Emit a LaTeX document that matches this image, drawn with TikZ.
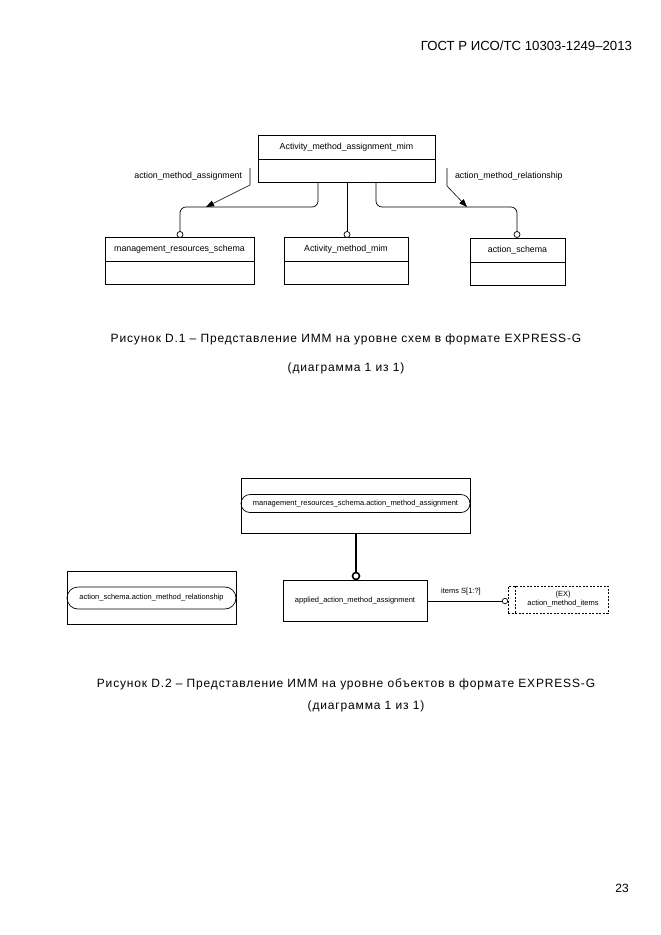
\documentclass[tikz,border=0pt]{standalone}
\usepackage{fontspec}
\setmainfont{Liberation Sans}
\usetikzlibrary{arrows.meta}
\begin{document}
\begin{tikzpicture}[x=1pt,y=-1pt,
  every node/.style={inner sep=0pt, outer sep=0pt},
  ebox/.style={draw, line width=0.7pt, anchor=north west},
  lbl/.style={font=\fontsize{8.8}{10}\selectfont},
  slbl/.style={font=\fontsize{7.5}{9}\selectfont},
  figcap/.style={font=\fontsize{12}{14}\selectfont\addfontfeatures{LetterSpace=7}},
  circ/.style={draw, circle, line width=0.7pt, minimum size=6pt, fill=white},
  conn/.style={line width=0.7pt, rounded corners=6pt},
  arr/.style={line width=0.6pt, -{Triangle[length=8pt,width=6pt]}},
  stad/.style={draw, line width=0.7pt, rounded corners=9pt},
  dbox/.style={draw, dashed, dash pattern=on 2pt off 1.5pt, line width=0.6pt}
]
\useasboundingbox (0,0) rectangle (661,935);
% header
\node[anchor=east, font=\fontsize{13.2}{15}\selectfont] (hdr) at (632,46) {ГОСТ Р ИСО/ТС 10303-1249–2013};
% ===== Diagram D.1 =====
\node[ebox, minimum width=177pt, minimum height=47pt] (A) at (258,135) {};
\draw[line width=0.7pt] ([yshift=-24pt]A.north west) -- ([yshift=-24pt]A.north east);
\node[lbl] (At) at ([yshift=-12pt]A.north) {Activity\_method\_assignment\_mim};

\node[ebox, minimum width=149pt, minimum height=47pt] (B) at (105,237) {};
\draw[line width=0.7pt] ([yshift=-24pt]B.north west) -- ([yshift=-24pt]B.north east);
\node[lbl] (Bt) at ([yshift=-12pt]B.north) {management\_resources\_schema};

\node[ebox, minimum width=124pt, minimum height=47pt] (C) at (284,237) {};
\draw[line width=0.7pt] ([yshift=-24pt]C.north west) -- ([yshift=-24pt]C.north east);
\node[lbl] (Ct) at ([yshift=-12pt]C.north) {Activity\_method\_mim};

\node[ebox, minimum width=95pt, minimum height=47pt] (D) at (470,238) {};
\draw[line width=0.7pt] ([yshift=-24pt]D.north west) -- ([yshift=-24pt]D.north east);
\node[lbl] (Dt) at ([yshift=-12pt]D.north) {action\_schema};

\node[circ] (cB) at (180,234.5) {};
\node[circ] (cC) at (347,234.5) {};
\node[circ] (cD) at (517,234.5) {};

\draw[conn] ([xshift=-28.5pt]A.south) -- ++(0,25) -| (cB.north);
\draw[conn] (A.south -| cC) -- (cC.north);
\draw[conn] ([xshift=29.5pt]A.south) -- ++(0,25) -| (cD.north);

\node[lbl, anchor=east] (l1) at (242,176) {action\_method\_assignment};
\node[lbl, anchor=west] (l2) at (455,176) {action\_method\_relationship};
\coordinate (a1s) at (250,168);
\coordinate (a1e) at (206,207);
\coordinate (a2s) at (447,168);
\coordinate (a2e) at (467,207);
\draw[arr] (a1s) -- ++(0,17) -- (a1e);
\draw[arr] (a2s) -- ++(0,18) -- (a2e);

\node[figcap] (cap1) at (346,339) {Рисунок  D.1 – Представление ИММ на уровне схем в формате EXPRESS-G};
\node[figcap] (cap1b) at (346,368) {(диаграмма 1 из 1)};

% ===== Diagram D.2 =====
\node[ebox, minimum width=229pt, minimum height=55pt] (E) at (241,478) {};
\node[stad, minimum width=229pt, minimum height=18pt, anchor=north west] (Es) at (241,494.5) {};
\node[slbl] (Et) at (Es.center) {management\_resources\_schema.action\_method\_assignment};

\node[ebox, minimum width=169pt, minimum height=53pt] (F) at (67,571) {};
\node[stad, rounded corners=11pt, minimum width=169pt, minimum height=22pt, anchor=north west] (Fs) at (67,587) {};
\node[slbl] (Ft) at (Fs.center) {action\_schema.action\_method\_relationship};

\node[ebox, minimum width=144pt, minimum height=41pt] (G) at (283,580) {};
\node[slbl] (Gt) at (G.center) {applied\_action\_method\_assignment};

\node[circ, line width=1.6pt, minimum size=7pt] (cG) at (356,576) {};
\draw[line width=2pt] (E.south -| cG) -- (cG.north);

\node[dbox, minimum width=100pt, minimum height=27pt, anchor=north west] (H) at (508,586) {};
\draw[dbox] ([xshift=7pt]H.north west) -- ([xshift=7pt]H.south west);
\node[slbl, align=center] (Ht) at (563,599.5) {(EX)\\action\_method\_items};

\node[circ, minimum size=5.5pt] (cH) at (505,601) {};
\draw[line width=0.7pt] (G.east |- cH) -- (cH.west);
\node[slbl] (it) at (461,592) {items S[1:?]};

\node[figcap] (cap2) at (346,684) {Рисунок D.2 – Представление ИММ на уровне объектов в формате EXPRESS-G};
\node[figcap] (cap2b) at (366,706) {(диаграмма 1 из 1)};

\node[font=\fontsize{12}{14}\selectfont] (pg) at (622,888) {23};
\end{tikzpicture}
\end{document}
